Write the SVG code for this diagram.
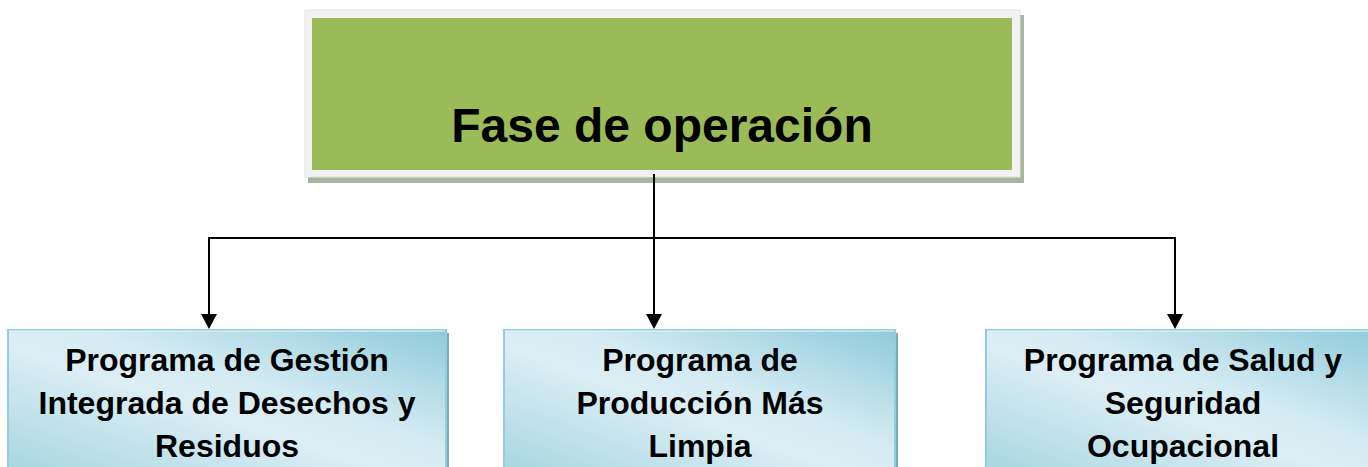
<svg xmlns="http://www.w3.org/2000/svg" width="1368" height="467" viewBox="0 0 1368 467">
<style>
.t{font-family:"Liberation Sans",Arial,sans-serif;font-weight:bold;fill:#000;text-anchor:middle}
.sub{font-size:32px}
.ln{stroke:#000;stroke-width:2;fill:none}
.box{fill:url(#blue);stroke:#93cddd;stroke-width:2}
.shb{fill:#7fa9b3}
</style>
<defs>
<linearGradient id="blue" x1="0" y1="1" x2="1" y2="0">
<stop offset="0" stop-color="#a5d5e1"/>
<stop offset="0.45" stop-color="#dbeef4"/>
<stop offset="0.6" stop-color="#d3ebf2"/>
<stop offset="1" stop-color="#8fcadb"/>
</linearGradient>
</defs>
<g id="top">
<rect x="308" y="15" width="716" height="168" fill="#a7b59c"/>
<rect x="305" y="10" width="715" height="167" fill="#f2f2f2" stroke="#e4e4e4" stroke-width="1"/>
<rect x="312" y="18" width="700" height="152" fill="#9bbb59"/>
<text class="t" x="662" y="142" font-size="48">Fase de operación</text>
</g>
<g id="connectors">
<line class="ln" x1="654" y1="174" x2="654" y2="316"/>
<polyline class="ln" points="209,316 209,238 1175,238 1175,316"/>
<path d="M201,314 L217,314 L209,329 Z"/>
<path d="M646,314 L662,314 L654,329 Z"/>
<path d="M1167,314 L1183,314 L1175,329 Z"/>
</g>
<g id="n1">
<rect class="shb" x="445" y="333" width="4" height="140"/>
<rect class="box" x="8" y="330" width="438" height="145"/>
<line x1="9" y1="331" x2="445" y2="331" stroke="#e8f5f9" stroke-width="1"/>
<text class="t sub" x="227" y="371">Programa de Gestión</text>
<text class="t sub" x="227" y="414">Integrada de Desechos y</text>
<text class="t sub" x="227" y="457">Residuos</text>
</g>
<g id="n2">
<rect class="shb" x="894" y="333" width="4" height="140"/>
<rect class="box" x="504" y="330" width="391" height="145"/>
<line x1="505" y1="331" x2="894" y2="331" stroke="#e8f5f9" stroke-width="1"/>
<text class="t sub" x="700" y="371">Programa de</text>
<text class="t sub" x="700" y="414">Producción Más</text>
<text class="t sub" x="700" y="457">Limpia</text>
</g>
<g id="n3">
<rect class="box" x="986" y="330" width="396" height="145"/>
<line x1="987" y1="331" x2="1368" y2="331" stroke="#e8f5f9" stroke-width="1"/>
<text class="t sub" x="1183" y="371">Programa de Salud y</text>
<text class="t sub" x="1183" y="414">Seguridad</text>
<text class="t sub" x="1183" y="457">Ocupacional</text>
</g>
</svg>
